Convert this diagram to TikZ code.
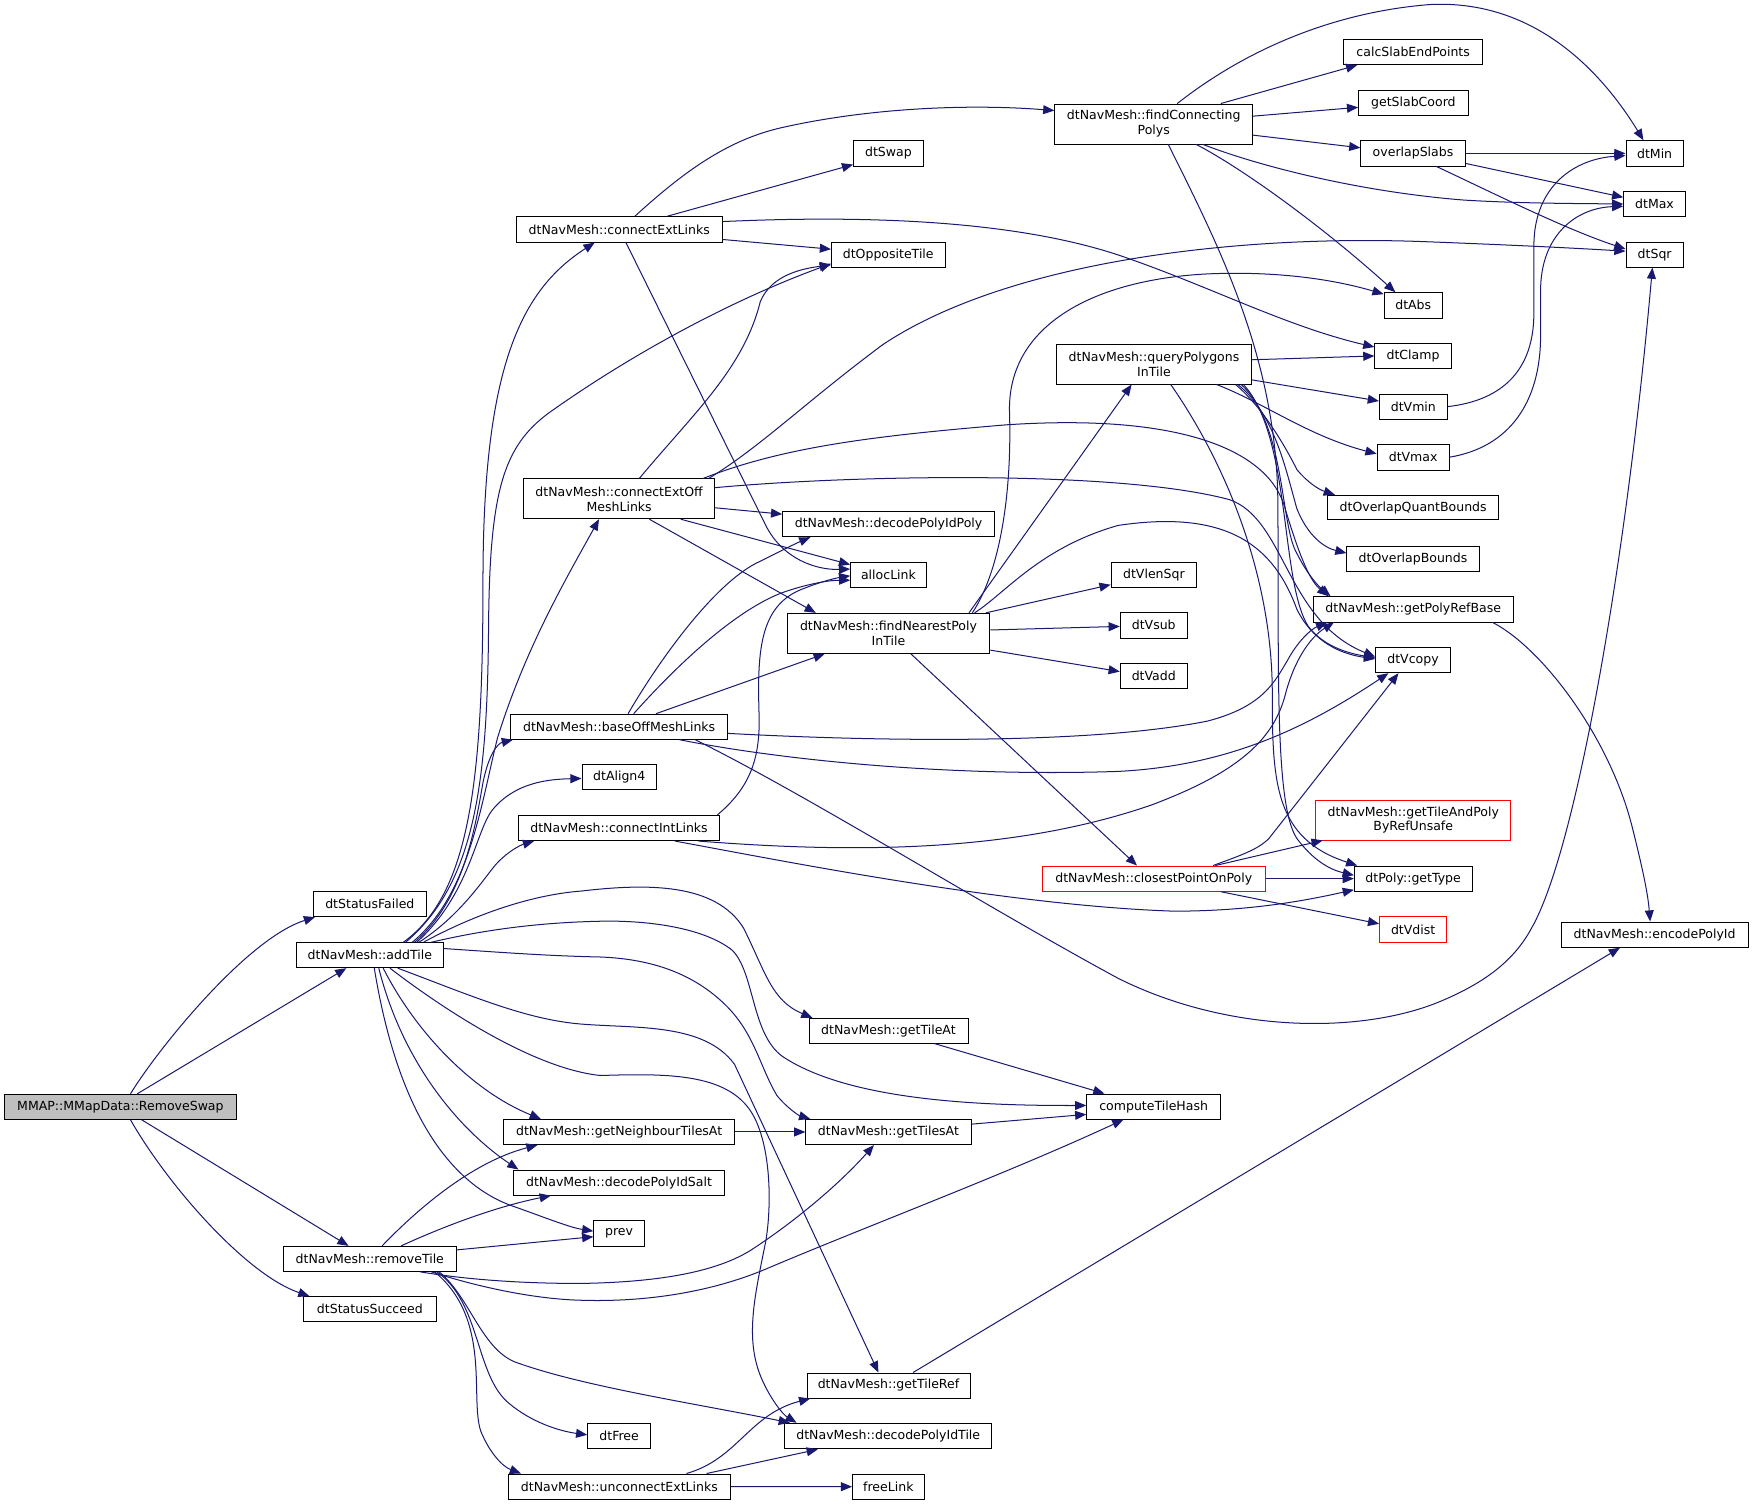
\documentclass[tikz,border=0pt]{standalone}
\usepackage{fontspec}
\setmainfont{DejaVu Sans}
\usetikzlibrary{arrows.meta}
\definecolor{edgec}{HTML}{191970}
\definecolor{rootfill}{HTML}{BFBFBF}
\newcommand\mynode[6]{\node[#1, minimum width=#4, minimum height=#5] (#2) at (#3) {#6};}
\begin{document}
\begin{tikzpicture}[x=1pt,y=-1pt,
  box/.style={draw=black, line width=0.8pt, fill=white, rectangle, inner sep=0pt, font=\fontsize{11.2}{13.4}\selectfont, align=center},
  redbox/.style={box, draw=red},
  rootbox/.style={box, fill=rootfill},
  conn/.style={draw=edgec, line width=0.9pt, -{Triangle[length=10pt,width=8pt]}}]
\useasboundingbox (0,0) rectangle (1568,1348);
% column 1
\mynode{rootbox}{rs}{107.7,990}{207}{22.4}{MMAP::MMapData::RemoveSwap}
% column 2
\mynode{box}{sf}{330.8,808.7}{101.7}{22.4}{dtStatusFailed}
\mynode{box}{at}{330.8,854.4}{131}{22.4}{dtNavMesh::addTile}
\mynode{box}{rt}{330.8,1126}{154.3}{22.4}{dtNavMesh::removeTile}
\mynode{box}{ss}{330.8,1171}{118.5}{22.4}{dtStatusSucceed}
% column 3
\mynode{box}{cel}{553.9,205.2}{183.8}{22.8}{dtNavMesh::connectExtLinks}
\mynode{box}{ceo}{553.8,446.2}{171}{35.6}{dtNavMesh::connectExtOff\\MeshLinks}
\mynode{box}{bom}{553.8,650}{194.3}{22.5}{dtNavMesh::baseOffMeshLinks}
\mynode{box}{al4}{553.9,695.3}{66.7}{22.5}{dtAlign4}
\mynode{box}{cil}{553.7,740.6}{180}{22.6}{dtNavMesh::connectIntLinks}
\mynode{box}{gnt}{553.8,1012.5}{206.5}{22.5}{dtNavMesh::getNeighbourTilesAt}
\mynode{box}{dps}{553.7,1057.8}{188.6}{22.5}{dtNavMesh::decodePolyIdSalt}
\mynode{box}{prev}{553.7,1103.2}{45.2}{22.6}{prev}
\mynode{box}{dtf}{553.8,1284.4}{56.3}{22.8}{dtFree}
\mynode{box}{uel}{554,1329.7}{198}{22.6}{dtNavMesh::unconnectExtLinks}
% column 4
\mynode{box}{sw}{794.7,137.2}{62.4}{22.7}{dtSwap}
\mynode{box}{dto}{794.5,227.9}{101.6}{22.4}{dtOppositeTile}
\mynode{box}{dpp}{794.8,468.9}{189.5}{22.4}{dtNavMesh::decodePolyIdPoly}
\mynode{box}{alk}{794.7,514}{67.7}{22.6}{allocLink}
\mynode{box}{fnp}{794.7,566.5}{181.4}{35.8}{dtNavMesh::findNearestPoly\\InTile}
\mynode{box}{gta}{794.7,921.9}{142.2}{22.2}{dtNavMesh::getTileAt}
\mynode{box}{gts}{794.7,1012.5}{147.9}{22.6}{dtNavMesh::getTilesAt}
\mynode{box}{gtr}{794.7,1239.3}{145.8}{22.5}{dtNavMesh::getTileRef}
\mynode{box}{dpt}{794.5,1284.5}{185}{23}{dtNavMesh::decodePolyIdTile}
\mynode{box}{frl}{794.6,1329.8}{64.1}{22.5}{freeLink}
% column 5
\mynode{box}{fcp}{1032,110.9}{177}{35.8}{dtNavMesh::findConnecting\\Polys}
\mynode{box}{qpt}{1032.2,325.8}{174.4}{35.5}{dtNavMesh::queryPolygons\\InTile}
\mynode{box}{vls}{1032.1,514}{76.6}{22.6}{dtVlenSqr}
\mynode{box}{vsub}{1032,559.3}{60}{22.7}{dtVsub}
\mynode{box}{vadd}{1032,604.7}{60}{22.7}{dtVadd}
\mynode{redbox}{cpp}{1032,785.9}{199.3}{22.6}{dtNavMesh::closestPointOnPoly}
\mynode{box}{cth}{1031.9,989.8}{119.7}{22.5}{computeTileHash}
% column 6
\mynode{box}{cse}{1264,46.5}{124}{22.7}{calcSlabEndPoints}
\mynode{box}{gsc}{1264.2,92}{98}{23}{getSlabCoord}
\mynode{box}{ovs}{1263.9,137.2}{93.4}{22.7}{overlapSlabs}
\mynode{box}{abs}{1264.1,273.1}{52.2}{22.6}{dtAbs}
\mynode{box}{clp}{1263.9,318.4}{68.3}{22.8}{dtClamp}
\mynode{box}{vmin}{1264.2,363.7}{60.8}{22.6}{dtVmin}
\mynode{box}{vmax}{1264,408.9}{64.6}{23}{dtVmax}
\mynode{box}{oqb}{1264,454}{152.6}{22.1}{dtOverlapQuantBounds}
\mynode{box}{ob}{1263.9,499.7}{118.3}{22.6}{dtOverlapBounds}
\mynode{box}{prb}{1264.1,545}{179}{22.7}{dtNavMesh::getPolyRefBase}
\mynode{box}{vcp}{1263.9,590.4}{67}{22.7}{dtVcopy}
\mynode{redbox}{tap}{1264.1,733.5}{174.2}{35.7}{dtNavMesh::getTileAndPoly\\ByRefUnsafe}
\mynode{box}{gty}{1264,785.9}{105.2}{22.6}{dtPoly::getType}
\mynode{redbox}{vds}{1264,831.3}{60}{22.6}{dtVdist}
% column 7
\mynode{box}{min}{1480,137.2}{51.3}{22.7}{dtMin}
\mynode{box}{max}{1479.9,182.5}{55.1}{22.7}{dtMax}
\mynode{box}{sqr}{1480,227.7}{51.3}{22.5}{dtSqr}
\mynode{box}{enc}{1480,836}{167.1}{22.6}{dtNavMesh::encodePolyId}

% ---- RemoveSwap
\draw[conn] ([xshift=9pt]rs.north) .. controls (140,940) and (220,840) .. ([xshift=-49pt]sf.south);
\draw[conn] ([xshift=15pt]rs.north) -- ([xshift=-21pt]at.south);
\draw[conn] ([xshift=19pt]rs.south) -- ([xshift=-19pt]rt.north);
\draw[conn] ([xshift=9pt]rs.south) .. controls (150,1060) and (220,1140) .. ([xshift=-54pt]ss.north);
% ---- addTile
\draw[conn] ([xshift=30pt]at.north) .. controls (420,800) and (432,700) .. (432,520) .. controls (432,330) and (465,260) .. ([xshift=-22pt]cel.south);
\draw[conn] ([xshift=32pt]at.north) .. controls (425,790) and (436,700) .. (437,560) .. controls (438,440) and (450,400) .. (490,370) .. controls (560,320) and (650,270) .. ([yshift=-8pt]dto.west);
\draw[conn] ([xshift=38pt]at.north) .. controls (420,800) and (430,720) .. (445,660) .. controls (470,580) and (505,520) .. ([xshift=-18pt]ceo.south);
\draw[conn] ([xshift=40pt]at.north) .. controls (415,805) and (425,740) .. (432,700) .. controls (437,675) and (445,665) .. ([xshift=-95pt]bom.south);
\draw[conn] ([xshift=42pt]at.north) .. controls (420,800) and (425,745) .. (440,725) .. controls (460,700) and (490,697) .. ([yshift=-1pt]al4.west);
\draw[conn] ([xshift=44pt]at.north) .. controls (410,820) and (430,790) .. (442,775) .. controls (452,763) and (465,756) .. ([xshift=-76pt]cil.south);
\draw[conn] ([xshift=48pt]at.north) .. controls (430,815) and (480,800) .. (520,797) .. controls (580,790) and (640,790) .. (665,830) .. controls (685,870) and (690,895) .. ([xshift=-68pt]gta.north);
\draw[conn] ([xshift=55pt]at.north) .. controls (440,830) and (490,825) .. (537,824) .. controls (580,823) and (630,830) .. (655,850) .. controls (675,870) and (672,925) .. (700,945) .. controls (760,985) and (880,989) .. ([yshift=1pt]cth.west);
\draw[conn] ([yshift=6pt]at.east) .. controls (450,852) and (490,855) .. (537,856) .. controls (590,858) and (625,875) .. (650,900) .. controls (675,925) and (680,955) .. (695,980) .. controls (705,992) and (715,998) .. ([xshift=-70pt]gts.north);
\draw[conn] ([xshift=12pt]at.south) .. controls (370,920) and (420,975) .. ([xshift=-70pt]gnt.north);
\draw[conn] ([xshift=8pt]at.south) .. controls (360,950) and (410,1010) .. ([xshift=-90pt]dps.north);
\draw[conn] ([xshift=4pt]at.south) .. controls (355,990) and (400,1060) .. (462,1080) .. controls (490,1090) and (510,1098) .. ([yshift=2pt]prev.west);
\draw[conn] ([xshift=25pt]at.south) .. controls (420,890) and (470,912) .. (520,916) .. controls (570,920) and (630,915) .. (657,952) -- ([xshift=-9pt]gtr.north);
\draw[conn] ([xshift=18pt]at.south) .. controls (380,890) and (470,955) .. (537,962) .. controls (600,960) and (655,960) .. (675,1000) .. controls (690,1030) and (690,1080) .. (685,1110) .. controls (675,1160) and (665,1200) .. (683,1237) .. controls (690,1252) and (700,1265) .. ([xshift=-82pt]dpt.north);
% ---- removeTile
\draw[conn] ([xshift=11pt]rt.north) .. controls (370,1085) and (420,1040) .. ([xshift=-73pt]gnt.south);
\draw[conn] ([xshift=28pt]rt.north) .. controls (390,1100) and (440,1080) .. ([xshift=-61pt]dps.south);
\draw[conn] ([yshift=8pt]rt.east) -- ([yshift=-3pt]prev.west);
\draw[conn] ([xshift=45pt]rt.south) .. controls (420,1145) and (470,1148) .. (519,1148) .. controls (580,1147) and (640,1140) .. (675,1116) .. controls (710,1093) and (750,1060) .. ([xshift=-13pt]gts.south);
\draw[conn] ([xshift=55pt]rt.south) .. controls (430,1152) and (480,1162) .. (519,1163) .. controls (580,1165) and (640,1155) .. (690,1133) .. controls (780,1095) and (900,1050) .. ([xshift=-27pt]cth.south);
\draw[conn] ([xshift=62pt]rt.south) .. controls (420,1160) and (430,1205) .. (460,1218) .. controls (520,1240) and (620,1255) .. ([xshift=-88pt]dpt.north);
\draw[conn] ([xshift=60pt]rt.south) .. controls (430,1165) and (425,1230) .. (455,1255) .. controls (475,1272) and (500,1280) .. ([yshift=1pt]dtf.west);
\draw[conn] ([xshift=58pt]rt.south) .. controls (440,1180) and (420,1250) .. (430,1280) .. controls (438,1300) and (450,1312) .. ([xshift=-88pt]uel.north);
% ---- unconnectExtLinks etc.
\draw[conn] ([xshift=60pt]uel.north) .. controls (660,1305) and (670,1265) .. ([xshift=-70pt]gtr.south);
\draw[conn] ([xshift=78pt]uel.north) -- ([xshift=-63pt]dpt.south);
\draw[conn] (uel.east) -- (frl.west);
\draw[conn] ([xshift=22pt]gtr.north) -- ([xshift=-31pt]enc.south);
\draw[conn] ([xshift=41pt]gta.south) -- ([xshift=-44pt]cth.north);
\draw[conn] ([yshift=7pt]gts.east) -- ([yshift=-7pt]cth.west);
\draw[conn] (gnt.east) -- (gts.west);
% ---- connectExtLinks
\draw[conn] ([xshift=14pt]cel.north) .. controls (610,155) and (650,125) .. (700,114) .. controls (780,96) and (870,93) .. ([yshift=12pt]fcp.west);
\draw[conn] ([xshift=43pt]cel.north) -- ([yshift=-10pt]sw.west);
\draw[conn] ([yshift=-9pt]cel.east) -- ([yshift=5pt]dto.west);
\draw[conn] ([yshift=7pt]cel.east) .. controls (760,193) and (900,195) .. (1000,228) .. controls (1080,255) and (1150,292) .. ([yshift=8pt]clp.west);
\draw[conn] ([xshift=6pt]cel.south) -- (685,470) .. controls (700,500) and (730,510) .. ([yshift=5pt]alk.west);
% ---- connectExtOffMeshLinks
\draw[conn] ([xshift=18pt]ceo.north) .. controls (620,370) and (665,330) .. (680,270) .. controls (690,245) and (720,240) .. ([yshift=-9pt]dto.west);
\draw[conn] ([xshift=80pt]ceo.north) .. controls (680,400) and (720,360) .. (790,308) .. controls (900,235) and (1100,210) .. (1270,216) .. controls (1350,219) and (1410,222) .. ([yshift=3pt]sqr.west);
\draw[conn] ([xshift=75pt]ceo.north) .. controls (700,400) and (780,390) .. (900,380) .. controls (1050,370) and (1130,400) .. (1148,450) .. controls (1160,490) and (1170,518) .. ([xshift=-76pt]prb.north);
\draw[conn] ([yshift=10pt]ceo.east) .. controls (760,425) and (1000,420) .. (1100,447) .. controls (1150,465) and (1150,555) .. ([yshift=3pt]vcp.west);
\draw[conn] ([yshift=-8pt]ceo.east) -- ([yshift=9pt]dpp.west);
\draw[conn] ([xshift=55pt]ceo.south) -- ([yshift=9pt]alk.west);
\draw[conn] ([xshift=27pt]ceo.south) -- ([xshift=-65pt]fnp.north);
% ---- baseOffMeshLinks
\draw[conn] ([xshift=8pt]bom.north) .. controls (590,590) and (640,520) .. (680,502) .. controls (700,492) and (712,486) .. ([xshift=-70pt]dpp.south);
\draw[conn] ([xshift=13pt]bom.north) .. controls (610,590) and (660,545) .. (700,530) .. controls (720,523) and (740,519) .. ([yshift=-5pt]alk.west);
\draw[conn] ([xshift=33pt]bom.north) -- ([xshift=-57pt]fnp.south);
\draw[conn] ([yshift=-6pt]bom.east) .. controls (800,664) and (980,665) .. (1080,645) .. controls (1130,632) and (1140,610) .. (1152,590) .. controls (1160,575) and (1172,563) .. ([xshift=-77pt]prb.south);
\draw[conn] ([xshift=54pt]bom.south) .. controls (700,680) and (850,695) .. (1000,690) .. controls (1100,685) and (1170,650) .. ([xshift=-22pt]vcp.south);
\draw[conn] ([xshift=68pt]bom.south) .. controls (720,710) and (880,810) .. (1000,875) .. controls (1100,925) and (1220,925) .. (1290,895) .. controls (1330,878) and (1355,858) .. (1370,830) .. controls (1410,760) and (1455,500) .. ([xshift=-2pt]sqr.south);
% ---- connectIntLinks
\draw[conn] ([xshift=88pt]cil.north) .. controls (670,705) and (680,680) .. (679,640) .. controls (677,580) and (680,540) .. (720,526) .. controls (735,520) and (748,517) .. ([yshift=-1pt]alk.west);
\draw[conn] ([xshift=71pt]cil.south) .. controls (750,762) and (900,765) .. (1030,720) .. controls (1110,690) and (1140,660) .. (1150,620) .. controls (1158,590) and (1172,570) .. ([xshift=-71pt]prb.south);
\draw[conn] ([xshift=50pt]cil.south) .. controls (700,770) and (900,810) .. (1050,815) .. controls (1120,815) and (1170,805) .. ([yshift=-10pt]gty.west);
% ---- findNearestPolyInTile
\draw[conn] ([xshift=72pt]fnp.north) -- ([xshift=-20pt]qpt.south);
\draw[conn] ([xshift=75pt]fnp.north) .. controls (895,510) and (905,440) .. (903,370) .. controls (900,290) and (980,250) .. (1080,245) .. controls (1150,242) and (1200,252) .. ([yshift=10pt]abs.west);
\draw[conn] ([xshift=87pt]fnp.north) -- ([yshift=-9pt]vls.west);
\draw[conn] ([yshift=3pt]fnp.east) -- ([yshift=-1pt]vsub.west);
\draw[conn] ([yshift=-15pt]fnp.east) -- ([yshift=4pt]vadd.west);
\draw[conn] ([xshift=20pt]fnp.south) -- ([xshift=-15pt]cpp.north);
\draw[conn] ([xshift=77pt]fnp.north) .. controls (900,530) and (930,490) .. (1000,470) .. controls (1100,455) and (1140,490) .. (1160,545) .. controls (1175,575) and (1200,585) .. ([yshift=1pt]vcp.west);
% ---- closestPointOnPoly
\draw[conn] ([xshift=53pt]cpp.north) .. controls (1110,765) and (1125,760) .. (1135,750) -- ([xshift=-13pt]vcp.south);
\draw[conn] ([xshift=55pt]cpp.north) -- ([xshift=-81pt]tap.south);
\draw[conn] (cpp.east) -- (gty.west);
\draw[conn] ([xshift=60pt]cpp.south) -- ([yshift=5pt]vds.west);
% ---- queryPolygonsInTile
\draw[conn] ([yshift=4pt]qpt.east) -- (clp.west);
\draw[conn] ([yshift=-14pt]qpt.east) -- ([yshift=5pt]vmin.west);
\draw[conn] ([xshift=56pt]qpt.south) .. controls (1130,360) and (1170,390) .. ([yshift=3pt]vmax.west);
\draw[conn] ([xshift=73pt]qpt.south) .. controls (1130,365) and (1150,400) .. (1160,420) .. controls (1170,432) and (1180,438) .. ([xshift=-70pt]oqb.north);
\draw[conn] ([xshift=75pt]qpt.south) .. controls (1140,370) and (1150,420) .. (1160,455) .. controls (1170,480) and (1185,490) .. ([yshift=5pt]ob.west);
\draw[conn] ([xshift=78pt]qpt.south) .. controls (1150,380) and (1145,470) .. (1160,495) .. controls (1170,515) and (1180,525) .. ([xshift=-74pt]prb.north);
\draw[conn] ([xshift=80pt]qpt.south) .. controls (1155,390) and (1145,520) .. (1170,560) .. controls (1185,580) and (1210,585) .. ([yshift=2pt]vcp.west);
\draw[conn] ([xshift=15pt]qpt.south) .. controls (1100,420) and (1138,520) .. (1138,620) .. controls (1138,700) and (1140,750) .. ([xshift=-50pt]gty.north);
% ---- findConnectingPolys
\draw[conn] ([xshift=13pt]fcp.south) .. controls (1090,220) and (1142,320) .. (1143,450) .. controls (1144,600) and (1140,720) .. (1160,750) .. controls (1175,770) and (1190,778) .. ([yshift=3pt]gty.west);
\draw[conn] ([xshift=60pt]fcp.north) -- ([xshift=-50pt]cse.south);
\draw[conn] ([yshift=7pt]fcp.east) -- ([yshift=-4pt]gsc.west);
\draw[conn] ([yshift=-10pt]fcp.east) -- ([yshift=5pt]ovs.west);
\draw[conn] ([xshift=21pt]fcp.north) .. controls (1120,40) and (1200,10) .. (1280,4) .. controls (1370,0) and (1430,60) .. ([xshift=-10pt]min.north);
\draw[conn] ([xshift=44pt]fcp.south) .. controls (1130,150) and (1220,172) .. (1310,179) .. controls (1360,182) and (1410,182) .. (max.west);
\draw[conn] ([xshift=38pt]fcp.south) .. controls (1110,150) and (1180,200) .. ([xshift=-16pt]abs.north);
% ---- overlapSlabs, dtVmin, dtVmax, getPolyRefBase
\draw[conn] (ovs.east) -- (min.west);
\draw[conn] ([yshift=-9pt]ovs.east) -- ([yshift=6pt]max.west);
\draw[conn] ([xshift=21pt]ovs.south) .. controls (1330,170) and (1400,205) .. ([yshift=5pt]sqr.west);
\draw[conn] (vmin.east) .. controls (1345,358) and (1372,330) .. (1372,280) -- (1372,220) .. controls (1372,165) and (1410,142) .. ([yshift=-2pt]min.west);
\draw[conn] (vmax.east) .. controls (1350,400) and (1378,360) .. (1378,300) -- (1378,260) .. controls (1378,210) and (1410,186) .. ([yshift=-2pt]max.west);
\draw[conn] ([xshift=71pt]prb.south) .. controls (1380,580) and (1440,660) .. (1460,740) .. controls (1470,780) and (1474,800) .. ([xshift=-4pt]enc.north);
\end{tikzpicture}
\end{document}
